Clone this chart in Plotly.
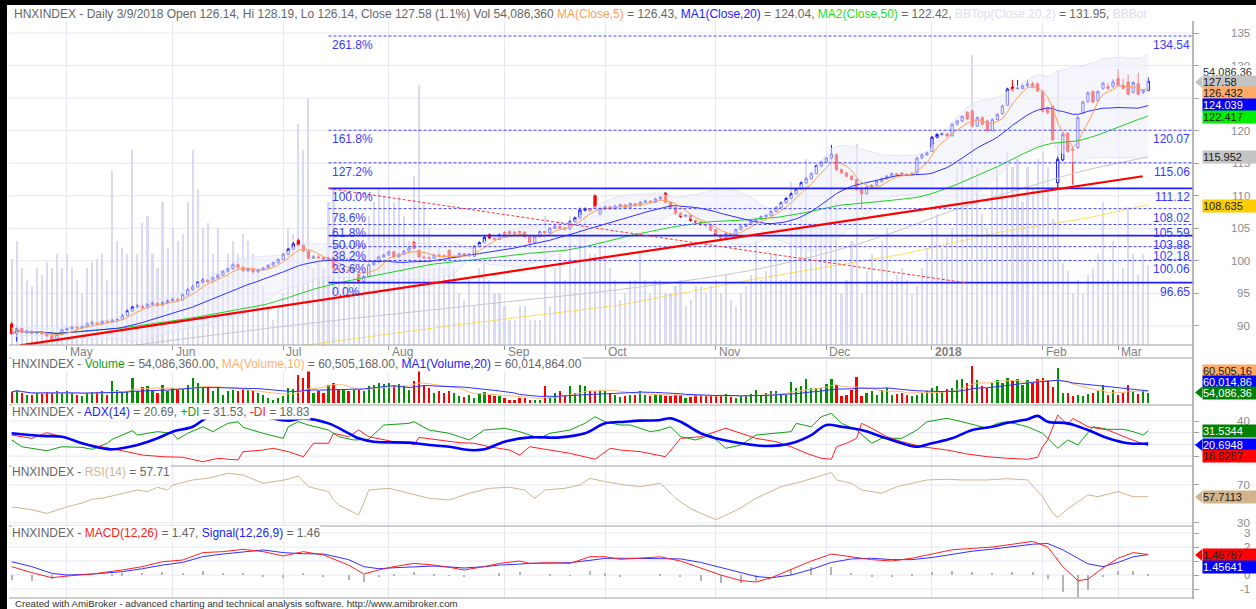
import plotly.graph_objects as go
import pandas as pd

W, H = 1256, 609
FONT = "Liberation Sans, Arial, sans-serif"

# ---------------------------------------------------------------- data
month_ticks = [11, 32, 54, 75, 98, 118, 140, 162, 183, 205, 220]
month_labels = ["May", "Jun", "Jul", "Aug", "Sep", "Oct", "Nov", "Dec", "2018", "Feb", "Mar"]

open_px = [
    90.3, 88.8, 89.6, 89.0, 89.2, 88.9, 89.0, 88.8, 88.5, 88.0, 88.7,
    89.4, 89.6, 89.8, 89.7, 89.9, 90.3, 90.5, 90.3, 90.7, 90.6, 90.9, 91.0, 91.6, 92.3, 92.9, 93.0, 92.8, 93.3, 93.5, 93.2, 93.6,
    93.9, 94.1, 94.0, 94.8, 95.6, 96.0, 96.7, 97.0, 96.8, 97.4, 97.8, 98.4, 98.8, 99.4, 99.0, 98.5, 98.7, 98.3, 98.6, 98.9, 99.3, 99.7,
    100.2, 101.0, 101.8, 103.1, 102.4, 101.5, 100.4, 100.6, 100.5, 100.2, 100.5, 98.8, 98.6, 98.6, 98.5, 97.9, 96.9, 97.6, 99.4, 99.8, 100.6,
    100.9, 101.4, 100.6, 101.0, 101.5, 102.8, 101.6, 100.6, 100.5, 100.4, 100.9, 100.8, 101.6, 100.5, 100.6, 101.1, 100.8, 100.7, 102.2, 102.8, 104.0, 103.5, 103.3,
    104.3, 104.5, 104.4, 104.5, 104.4, 103.7, 102.8, 103.7, 104.5, 104.3, 105.0, 105.3, 105.1, 104.9, 106.0, 106.6, 107.8, 108.0, 110.0, 107.2,
    108.0, 108.3, 108.0, 108.4, 108.6, 108.2, 108.8, 108.5, 109.0, 109.2, 109.0, 109.5, 110.4, 109.0, 108.2, 107.3, 106.8, 107.0, 106.2, 106.0, 105.6, 105.4,
    104.8, 104.0, 103.6, 104.2, 104.0, 104.8, 105.3, 105.6, 106.0, 106.4, 106.8, 107.0, 107.6, 108.2, 108.9, 109.6, 110.3, 111.0, 112.0, 112.6, 113.4, 114.6,
    115.2, 115.8, 116.3, 114.0, 113.5, 113.0, 112.5, 111.0, 110.3, 111.3, 111.6, 112.2, 112.6, 113.0, 113.4, 113.5, 113.3, 113.2, 113.5, 115.8, 116.3,
    116.8, 119.0, 119.4, 119.5, 119.2, 121.0, 121.5, 122.8, 123.0, 120.7, 122.0, 121.5, 120.0, 121.7, 122.6, 123.9, 126.7, 126.5, 126.5, 126.9, 127.2, 127.2,
    126.0, 123.5, 123.7, 112.0, 115.5, 119.6, 117.2, 117.4, 122.8, 124.5, 126.0, 124.6, 126.5, 126.8, 126.8,
    128.0, 127.0, 127.5, 125.9, 127.2, 125.9, 126.14,
]
high_px = [
    90.6, 89.8, 89.7, 89.4, 89.3, 89.2, 89.1, 88.9, 88.6, 88.9, 89.6,
    89.8, 90.0, 90.0, 90.1, 90.5, 90.7, 90.6, 90.9, 90.9, 91.1, 91.2, 91.8, 92.5, 93.1, 93.3, 93.2, 93.5, 93.8, 93.6, 93.8, 94.1,
    94.4, 94.3, 95.0, 95.8, 96.3, 96.9, 97.3, 97.2, 97.6, 98.0, 98.6, 99.0, 99.7, 99.6, 99.2, 98.9, 98.8, 98.8, 99.1, 99.5, 99.9, 100.4,
    101.2, 102.0, 102.9, 103.4, 102.6, 101.7, 100.9, 100.8, 100.6, 100.6, 100.7, 99.0, 98.9, 98.8, 98.9, 98.1, 97.8, 99.6, 100.0, 100.8, 101.1,
    101.6, 101.5, 101.2, 101.7, 102.2, 103.0, 101.8, 100.8, 100.7, 101.1, 101.1, 101.0, 101.8, 100.8, 101.3, 101.2, 101.2, 102.4, 103.0, 103.8, 104.2, 103.6, 104.2,
    104.5, 104.7, 104.6, 104.7, 104.5, 103.8, 103.9, 104.7, 104.6, 105.2, 105.5, 105.4, 105.2, 106.2, 106.8, 108.0, 108.2, 108.1, 110.2, 108.3,
    108.5, 108.4, 108.6, 108.8, 108.7, 109.0, 108.9, 109.2, 109.4, 109.3, 109.7, 110.0, 110.6, 109.1, 108.3, 107.5, 107.2, 107.1, 106.4, 106.1, 105.8, 105.5,
    104.9, 104.1, 104.4, 104.3, 105.0, 105.5, 105.8, 106.2, 106.6, 107.0, 107.2, 107.8, 108.4, 109.1, 109.8, 110.5, 111.2, 112.2, 112.8, 113.6, 114.8, 115.4,
    116.0, 117.8, 116.5, 114.2, 113.7, 113.2, 112.6, 111.3, 111.5, 111.8, 112.4, 112.8, 113.2, 113.6, 113.5, 113.7, 113.4, 113.6, 116.0, 116.5, 116.8,
    119.2, 119.6, 119.7, 119.7, 121.2, 121.7, 122.4, 123.0, 123.3, 122.2, 122.2, 121.7, 121.9, 122.7, 124.0, 126.6, 127.8, 127.8, 127.1, 127.8, 127.5, 127.4,
    126.2, 123.7, 123.9, 116.0, 119.8, 119.8, 117.5, 122.3, 124.6, 126.1, 126.2, 126.2, 127.5, 127.3, 127.9,
    129.4, 128.0, 128.6, 127.6, 128.9, 126.4, 128.19,
]
low_px = [
    88.6, 87.6, 88.9, 88.8, 88.7, 88.7, 88.6, 88.3, 87.8, 87.9, 88.6,
    89.2, 89.4, 89.5, 89.5, 89.8, 90.1, 90.1, 90.2, 90.4, 90.5, 90.7, 90.9, 91.5, 92.2, 92.7, 92.6, 92.7, 93.1, 93.0, 93.1, 93.4,
    93.7, 93.8, 93.9, 94.7, 95.4, 95.9, 96.5, 96.6, 96.7, 97.2, 97.7, 98.2, 98.7, 98.8, 98.3, 98.3, 98.1, 98.2, 98.5, 98.8, 99.2, 99.6,
    100.1, 100.9, 101.7, 102.2, 101.3, 100.2, 100.3, 100.3, 100.0, 100.1, 98.6, 98.4, 98.4, 98.3, 98.4, 96.7, 96.6, 97.5, 99.3, 99.7, 100.5,
    100.8, 100.4, 100.5, 100.9, 101.4, 101.8, 100.5, 100.3, 100.3, 100.3, 100.6, 100.5, 100.4, 100.4, 100.5, 100.7, 100.6, 100.6, 102.1, 102.7, 103.3, 103.1, 103.2,
    103.5, 104.0, 104.0, 104.1, 103.5, 102.6, 102.7, 103.6, 104.1, 104.2, 104.9, 104.8, 104.7, 104.8, 105.9, 106.5, 107.6, 107.5, 108.0, 107.0,
    107.8, 107.8, 107.9, 108.2, 108.0, 108.1, 108.3, 108.4, 108.9, 108.8, 108.9, 109.4, 108.9, 108.0, 107.1, 106.6, 106.7, 106.0, 105.8, 105.4, 105.2, 104.6,
    103.8, 103.3, 103.5, 103.8, 103.9, 104.7, 105.2, 105.5, 105.9, 106.3, 106.6, 106.9, 107.5, 108.1, 108.8, 109.5, 110.2, 110.9, 111.8, 112.5, 113.3, 114.4,
    115.0, 115.6, 113.8, 113.3, 112.8, 112.3, 110.8, 108.0, 110.2, 111.1, 111.5, 112.0, 112.5, 112.9, 113.0, 113.1, 113.0, 113.0, 113.4, 115.6, 116.1,
    116.7, 118.8, 119.2, 119.0, 119.1, 120.8, 121.3, 121.6, 120.5, 120.6, 120.8, 119.8, 119.9, 121.6, 122.5, 123.8, 126.0, 126.3, 126.3, 126.7, 126.6, 125.9,
    122.8, 122.5, 118.4, 111.1, 115.3, 116.6, 111.7, 117.2, 122.6, 124.3, 124.2, 124.4, 126.3, 126.3, 126.6,
    126.8, 126.3, 125.4, 125.7, 125.4, 125.6, 126.14,
]
close_px = [
    88.8, 89.6, 89.0, 89.2, 88.9, 89.0, 88.8, 88.5, 88.0, 88.7, 89.4,
    89.6, 89.8, 89.7, 89.9, 90.3, 90.5, 90.3, 90.7, 90.6, 90.9, 91.0, 91.6, 92.3, 92.9, 93.0, 92.8, 93.3, 93.5, 93.2, 93.6, 93.9,
    94.1, 94.0, 94.8, 95.6, 96.0, 96.7, 97.0, 96.8, 97.4, 97.8, 98.4, 98.8, 99.4, 99.0, 98.5, 98.7, 98.3, 98.6, 98.9, 99.3, 99.7, 100.2,
    101.0, 101.8, 102.6, 102.4, 101.5, 100.4, 100.6, 100.5, 100.2, 100.4, 98.8, 98.6, 98.6, 98.5, 98.7, 96.9, 97.6, 99.4, 99.8, 100.6, 100.9,
    101.4, 100.6, 101.0, 101.5, 102.0, 101.9, 100.6, 100.5, 100.4, 100.9, 100.8, 100.7, 100.5, 100.6, 101.1, 100.8, 101.0, 102.2, 102.8, 103.6, 103.5, 103.3, 104.0,
    103.7, 104.2, 104.1, 104.3, 103.7, 102.8, 103.7, 104.5, 104.3, 105.0, 105.3, 105.0, 104.9, 106.0, 106.6, 107.8, 108.0, 107.7, 108.2, 108.0,
    108.3, 108.0, 108.4, 108.6, 108.2, 108.8, 108.5, 109.0, 109.2, 109.0, 109.5, 109.8, 109.0, 108.2, 107.3, 106.8, 107.0, 106.2, 106.0, 105.6, 105.4, 104.8,
    104.0, 103.6, 104.2, 104.0, 104.8, 105.3, 105.6, 106.0, 106.4, 106.8, 107.0, 107.6, 108.2, 108.9, 109.6, 110.3, 111.0, 112.0, 112.6, 113.4, 114.6, 115.2,
    115.8, 116.4, 114.0, 113.5, 113.0, 112.5, 111.0, 110.3, 111.3, 111.6, 112.2, 112.6, 113.0, 113.4, 113.2, 113.3, 113.2, 113.4, 115.8, 116.3, 116.6,
    119.0, 119.4, 119.5, 119.2, 121.0, 121.5, 122.2, 121.8, 120.7, 122.0, 121.0, 120.0, 121.7, 122.5, 123.8, 126.4, 126.2, 126.5, 126.9, 127.2, 126.8, 126.1,
    123.0, 122.8, 118.6, 115.6, 119.4, 116.8, 117.0, 122.0, 124.4, 125.8, 124.4, 126.0, 127.3, 126.5, 127.5,
    127.0, 126.5, 125.6, 127.4, 125.6, 126.2, 127.58,
]
volume_m = [
    58, 70, 52, 44, 40, 52, 47, 56, 52, 61, 52,
    61, 52, 44, 35, 52, 56, 58, 61, 44, 117, 70, 65, 61, 131, 61, 82, 87, 61, 52, 96, 65,
    79, 70, 75, 96, 131, 105, 79, 82, 61, 79, 44, 61, 70, 61, 75, 70, 61, 52, 40, 26, 17, 26,
    35, 79, 75, 149, 131, 166, 52, 61, 52, 96, 105, 70, 70, 61, 70, 70, 61, 87, 96, 105, 100,
    105, 96, 100, 87, 70, 114, 175, 96, 79, 52, 65, 52, 61, 52, 35, 30, 44, 26, 52, 58, 44, 35, 35,
    26, 17, 17, 26, 26, 17, 17, 17, 87, 26, 52, 61, 44, 87, 52, 93, 87, 61, 61, 70,
    61, 52, 44, 30, 35, 44, 44, 61, 44, 35, 44, 44, 35, 35, 40, 44, 26, 30, 40, 40, 35, 40,
    44, 35, 47, 30, 26, 35, 40, 47, 70, 44, 50, 61, 61, 44, 44, 110, 79, 90, 125, 79, 79, 79,
    100, 125, 96, 35, 44, 70, 135, 35, 50, 61, 44, 70, 79, 44, 47, 52, 44, 35, 40, 52, 65,
    79, 88, 65, 72, 79, 120, 125, 105, 195, 120, 88, 79, 105, 120, 105, 130, 120, 125, 96, 120, 105, 125,
    130, 120, 85, 185, 55, 50, 35, 44, 35, 47, 52, 61, 96, 44, 70,
    44, 52, 93, 61, 47, 61, 54.08636,
]

# long moving averages
grey_bars = [20, 57, 90, 125, 150, 170, 190, 207, 214, 226]
grey_vals = [86.6, 90.2, 93.0, 96.0, 99.0, 103.0, 108.5, 112.5, 114.0, 115.952]
yellow_bars = [56, 90, 121, 147, 177, 197, 214, 226]
yellow_vals = [86.8, 90.3, 93.2, 97.1, 101.0, 104.5, 106.6, 108.635]

# fibonacci study and trend lines
fib_pcts = ["261.8%", "161.8%", "127.2%", "100.0%", "78.6%", "61.8%", "50.0%", "38.2%", "23.6%", "0.0%"]
fib_levels = [134.54, 120.07, 115.06, 111.12, 108.02, 105.59, 103.88, 102.18, 100.06, 96.65]
fib_solid = [False, False, False, True, False, False, True, False, False, True]
fib_start_bar = 63
fib_end_bar = 234.9
fib_diag_bars = [63, 189.5]
fib_diag_prices = [111.12, 96.65]
trend_bars = [1.66, 224.9]
trend_prices = [87.0, 113.0]

# ADX(14)
adx_bars = [0, 6, 10, 14, 18, 20, 25, 29, 32, 36, 39, 41, 45, 50, 55, 58, 63, 67, 69, 72, 79, 83, 87, 91, 94, 98, 103, 109, 114, 118,
            122, 125, 129, 131, 133, 137, 140, 145, 150, 155, 159, 162, 165, 169, 173, 177, 180, 183, 187, 191, 195, 198, 202, 204, 206, 210, 214, 218, 222, 226]
adx_vals = [29.5, 27.2, 26.6, 21.0, 16.7, 15.8, 19.5, 25.2, 30.9, 35.1, 43.2, 43.7, 46.0, 43.7, 40.3, 42.3, 38.0, 29.5, 25.2, 22.3,
            21.5, 19.5, 18.0, 15.2, 15.8, 22.3, 26.0, 26.0, 29.5, 38.0, 39.4, 40.3, 40.9, 42.3, 39.4, 29.5, 25.2, 21.0, 18.6, 21.0,
            28.0, 36.6, 35.1, 32.3, 26.6, 21.0, 18.0, 21.0, 25.2, 32.3, 35.1, 38.5, 41.5, 44.4, 39.4, 38.0, 32.3, 25.2, 21.0, 20.69]
pdi_bars = [0, 2, 7, 10, 14, 16, 19, 20, 24, 25, 27, 29, 32, 33, 35, 38, 40, 43, 45, 46, 50, 54, 55, 57, 59, 63, 65, 68, 71, 74,
            79, 80, 83, 87, 91, 94, 98, 101, 105, 107, 111, 114, 116, 118, 121, 123, 127, 129, 131, 133, 136, 139, 142, 145, 148, 152,
            155, 156, 159, 161, 163, 165, 168, 171, 173, 177, 180, 182, 186, 189, 192, 194, 196, 198, 202, 205, 208, 210, 212, 215,
            218, 221, 223, 225, 226]
pdi_vals = [23.8, 18.0, 14.6, 18.0, 17.5, 15.8, 21.0, 24.4, 31.7, 28.0, 29.5, 30.9, 29.5, 24.4, 29.5, 35.1, 30.9, 38.0, 39.4, 34.6,
            29.5, 25.2, 35.1, 39.4, 36.6, 32.3, 26.6, 23.8, 24.4, 36.6, 38.0, 39.4, 32.3, 29.5, 23.8, 32.3, 33.8, 30.9, 25.2, 29.5,
            32.3, 38.0, 43.7, 39.4, 36.6, 36.6, 30.9, 32.3, 35.1, 26.6, 23.8, 28.0, 16.7, 19.5, 28.0, 29.5, 30.9, 38.0, 35.1, 43.7,
            46.6, 38.0, 32.3, 21.0, 25.2, 25.2, 32.3, 39.4, 42.3, 39.4, 35.7, 33.8, 38.0, 39.4, 35.1, 29.5, 16.7, 23.8, 19.5, 35.1,
            32.9, 32.9, 30.9, 28.0, 31.53]
mdi_bars = [0, 4, 7, 10, 14, 18, 22, 26, 30, 34, 38, 41, 45, 46, 50, 52, 55, 58, 60, 63, 64, 67, 69, 71, 74, 76, 79, 80, 81, 85,
            89, 92, 95, 99, 101, 103, 107, 111, 116, 119, 121, 125, 130, 133, 137, 139, 142, 145, 148, 152, 155, 158, 161, 163, 164,
            166, 168, 169, 171, 174, 177, 181, 186, 190, 194, 198, 202, 204, 205, 206, 208, 210, 211, 214, 218, 222, 226]
mdi_vals = [28.0, 25.2, 30.0, 26.6, 21.0, 18.0, 14.6, 10.9, 9.5, 9.0, 5.2, 8.1, 6.7, 13.8, 15.2, 16.7, 13.8, 9.5, 21.0, 21.0,
            29.5, 26.6, 32.3, 26.6, 24.4, 22.3, 21.5, 19.5, 26.0, 23.8, 21.5, 21.0, 18.0, 15.2, 10.9, 18.0, 15.2, 12.4, 7.3, 16.7,
            15.2, 13.8, 9.5, 25.2, 26.6, 29.5, 33.8, 29.5, 25.2, 22.3, 18.0, 12.4, 8.1, 7.3, 18.0, 21.0, 25.2, 38.0, 33.8, 26.6,
            22.3, 18.0, 15.2, 11.8, 9.5, 8.1, 7.3, 9.0, 18.0, 23.8, 45.1, 36.6, 42.3, 35.1, 32.3, 25.2, 18.83]

# RSI(14)
rsi_bars = [0, 4, 7, 11, 14, 16, 18, 21, 25, 27, 29, 31, 32, 36, 39, 43, 46, 50, 55, 57, 59, 63, 64, 65, 69, 70, 71, 75, 79, 83,
            87, 91, 95, 99, 102, 104, 106, 110, 113, 115, 118, 122, 125, 129, 132, 135, 138, 140, 142, 145, 148, 153, 157, 163, 164,
            167, 169, 173, 176, 182, 186, 189, 194, 198, 202, 205, 207, 208, 210, 214, 216, 220, 223, 226]
rsi_vals = [47, 44, 40, 47, 51, 55, 56, 59.5, 64.7, 63, 67.6, 64.7, 70, 75.3, 77, 82.3, 80.5, 71.8, 76, 79.5,
            68.2, 63, 54.2, 49, 38.4, 50.7, 64.7, 66.5, 61.3, 56, 54.2, 61.3, 66.5, 67.6, 64.7, 56, 64.7, 66.5, 70, 77,
            73.5, 70, 68.2, 71.8, 56, 45, 38, 33.5, 38, 46, 56, 68.2, 73.5, 83, 75.3, 71.8, 64.7, 61.3, 68.2, 75.3,
            76, 75.3, 75.3, 76.6, 75.3, 57.7, 40, 36, 45, 59.5, 57.7, 63, 57.7, 57.71]

# MACD(12,26) / Signal(9)
macd_bars = [0, 4, 8, 11, 16, 20, 22, 26, 30, 34, 38, 42, 46, 50, 54, 58, 62, 67, 70, 73, 76, 80, 84, 87, 90, 94, 97, 101, 103, 107,
             111, 115, 118, 121, 125, 129, 133, 137, 141, 145, 148, 151, 155, 159, 163, 167, 171, 175, 179, 183, 187, 191, 195, 199,
             203, 206, 209, 212, 214, 217, 220, 223, 226]
macd_vals = [0.6, 0.17, -0.19, -0.07, 0.07, 0.24, 0.36, 0.6, 0.95, 1.07, 1.6, 1.67, 1.83, 1.67, 1.36, 1.67, 1.43, 0.71, 0.07, 0.36,
             0.6, 0.83, 0.71, 0.55, 0.36, 0.6, 0.83, 1.0, 0.83, 0.88, 0.83, 1.31, 1.31, 1.12, 1.19, 1.3, 1.0, 0.5, 0.0, -0.4,
             -0.5, -0.2, 0.4, 1.0, 1.5, 1.3, 1.1, 1.0, 1.2, 1.5, 1.8, 1.9, 2.0, 2.2, 2.4, 2.0, 0.6, -0.4, -0.3, 0.5,
             1.2, 1.6, 1.47]
signal_vals = [0.95, 0.6, 0.12, 0.0, 0.07, 0.2, 0.24, 0.45, 0.71, 0.9, 1.31, 1.5, 1.65, 1.79, 1.6, 1.52, 1.5, 1.1, 0.6, 0.45,
               0.52, 0.6, 0.64, 0.58, 0.5, 0.6, 0.71, 0.78, 0.83, 0.85, 0.88, 1.05, 1.19, 1.2, 1.19, 1.2, 1.15, 0.9, 0.55, 0.2,
               -0.1, -0.2, 0.0, 0.4, 0.9, 1.15, 1.2, 1.1, 1.1, 1.25, 1.5, 1.7, 1.85, 2.0, 2.2, 2.25, 1.8, 1.2, 0.8, 0.6,
               0.9, 1.3, 1.46]

# last values printed by the chart
last_ma5, last_ma20, last_ma50, last_bbtop = 126.43, 124.04, 122.42, 131.95
last_vma10, last_vma20 = 60505168.00, 60014864.00
lbl_ma5, lbl_ma20, lbl_ma50, lbl_grey, lbl_yellow = "126.432", "124.039", "122.417", "115.952", "108.635"
lbl_adx, lbl_pdi, lbl_mdi, lbl_rsi = "20.6948", "31.5344", "18.8287", "57.7113"
lbl_macd, lbl_sig = "1.46787", "1.45641"

price_ticks = [90, 95, 100, 105, 110, 115, 120, 125, 130, 135]
price_tick_labels = [90, 95, 100, 105, 110, 115, 120, 130, 135]
adx_ticks, adx_tick_labels = [10, 20, 30, 40], [40]
rsi_ticks = [30, 70]
macd_ticks, macd_tick_labels = [-1, 0, 1, 2, 3], [-1, 0, 2, 3]

# ---------------------------------------------------------------- derived
n = len(close_px)
bars = list(range(n))
cs = pd.Series(close_px)
ma5 = cs.rolling(5, min_periods=1).mean()
ma20 = cs.rolling(20, min_periods=1).mean()
ma50 = cs.rolling(50, min_periods=1).mean()
sd20 = cs.rolling(20, min_periods=2).std(ddof=0).bfill()
bb_top = ma20 + 2 * sd20
bb_bot = ma20 - 2 * sd20
vs = pd.Series(volume_m)
vma10 = vs.rolling(10, min_periods=1).mean()
vma20 = vs.rolling(20, min_periods=1).mean()
up = [c >= o for o, c in zip(open_px, close_px)]
macd_hist = [m - s for m, s in zip(macd_vals, signal_vals)]


def px_x(p):
    return p / W


def px_y(p):
    return 1 - p / H


X0, X1 = 9, 1193
XR = [-0.53, 234.9]
P_TOP, P_BOT = 21, 345
V_TOP, V_BOT = 358, 403
A_TOP, A_BOT = 405, 466
R_TOP, R_BOT = 466, 526
M_TOP, M_BOT = 526, 598
GRID = "#e6e6f5"
AXC = "#a0a0a0"

fig = go.Figure()

# ----- price pane
fig.add_trace(go.Bar(x=bars, y=volume_m, xaxis="x", yaxis="y", width=0.42,
                     marker=dict(color="#dadaf2", line=dict(width=0)), hoverinfo="skip"))
fig.add_trace(go.Scatter(x=bars, y=bb_bot, xaxis="x", yaxis="y2", mode="lines",
                         line=dict(color="rgba(222,222,245,0.9)", width=0.8), hoverinfo="skip"))
fig.add_trace(go.Scatter(x=bars, y=bb_top, xaxis="x", yaxis="y2", mode="lines", fill="tonexty",
                         fillcolor="rgba(236,236,250,0.55)",
                         line=dict(color="rgba(222,222,245,0.9)", width=0.8), hoverinfo="skip"))
fig.add_trace(go.Scatter(x=yellow_bars, y=yellow_vals, xaxis="x", yaxis="y2", mode="lines",
                         line=dict(color="#ffd21a", width=1, dash="2px,1px"), hoverinfo="skip"))
fig.add_trace(go.Scatter(x=grey_bars, y=grey_vals, xaxis="x", yaxis="y2", mode="lines",
                         line=dict(color="#c8c8c8", width=1, shape="spline"), hoverinfo="skip"))
fig.add_trace(go.Scatter(x=bars, y=ma50, xaxis="x", yaxis="y2", mode="lines",
                         line=dict(color="#20d020", width=1), hoverinfo="skip"))
fig.add_trace(go.Scatter(x=bars, y=ma20, xaxis="x", yaxis="y2", mode="lines",
                         line=dict(color="#3030ff", width=1), hoverinfo="skip"))
fig.add_trace(go.Scatter(x=bars, y=ma5, xaxis="x", yaxis="y2", mode="lines",
                         line=dict(color="#ffa050", width=1), hoverinfo="skip"))

for lvl, solid in zip(fib_levels, fib_solid):
    fig.add_trace(go.Scatter(x=[fib_start_bar, fib_end_bar], y=[lvl, lvl], xaxis="x", yaxis="y2", mode="lines",
                             line=dict(color="#2020ff" if solid else "#4040ff", width=1.7 if solid else 1,
                                       dash="solid" if solid else "3px,2px"), hoverinfo="skip"))
fig.add_trace(go.Scatter(x=fib_diag_bars, y=fib_diag_prices, xaxis="x", yaxis="y2", mode="lines",
                         line=dict(color="#ff3030", width=1, dash="3px,2px"), hoverinfo="skip"))
fig.add_trace(go.Scatter(x=trend_bars, y=trend_prices, xaxis="x", yaxis="y2", mode="lines",
                         line=dict(color="#ff0000", width=2.2), hoverinfo="skip"))

fig.add_trace(go.Candlestick(x=bars, open=open_px, high=high_px, low=low_px, close=close_px,
                             xaxis="x", yaxis="y2", whiskerwidth=0,
                             increasing=dict(line=dict(color="#1010ff", width=1), fillcolor="white"),
                             decreasing=dict(line=dict(color="#ff0000", width=1), fillcolor="#ff0000"),
                             hoverinfo="skip"))

# ----- volume pane
fig.add_trace(go.Bar(x=bars, y=volume_m, xaxis="x2", yaxis="y3", width=0.45,
                     marker=dict(color=["#009000" if u else "#ff0000" for u in up], line=dict(width=0)),
                     hoverinfo="skip"))
fig.add_trace(go.Scatter(x=bars, y=vma10, xaxis="x2", yaxis="y3", mode="lines",
                         line=dict(color="#ffb878", width=1), hoverinfo="skip"))
fig.add_trace(go.Scatter(x=bars, y=vma20, xaxis="x2", yaxis="y3", mode="lines",
                         line=dict(color="#3030ff", width=1), hoverinfo="skip"))

# ----- ADX pane
fig.add_trace(go.Scatter(x=pdi_bars, y=pdi_vals, xaxis="x3", yaxis="y4", mode="lines",
                         line=dict(color="#10a010", width=1), hoverinfo="skip"))
fig.add_trace(go.Scatter(x=mdi_bars, y=mdi_vals, xaxis="x3", yaxis="y4", mode="lines",
                         line=dict(color="#ff2020", width=1), hoverinfo="skip"))
fig.add_trace(go.Scatter(x=adx_bars, y=adx_vals, xaxis="x3", yaxis="y4", mode="lines",
                         line=dict(color="#0000ff", width=2.6, shape="spline"), hoverinfo="skip"))

# ----- RSI pane
fig.add_trace(go.Scatter(x=rsi_bars, y=rsi_vals, xaxis="x4", yaxis="y5", mode="lines",
                         line=dict(color="#d2b48c", width=1), hoverinfo="skip"))

# ----- MACD pane
fig.add_trace(go.Bar(x=macd_bars, y=macd_hist, xaxis="x5", yaxis="y6", width=0.22,
                     marker=dict(color="#b4b4b4", line=dict(width=0)), hoverinfo="skip"))
fig.add_trace(go.Scatter(x=macd_bars, y=signal_vals, xaxis="x5", yaxis="y6", mode="lines",
                         line=dict(color="#3030ff", width=1), hoverinfo="skip"))
fig.add_trace(go.Scatter(x=macd_bars, y=macd_vals, xaxis="x5", yaxis="y6", mode="lines",
                         line=dict(color="#ff2020", width=1), hoverinfo="skip"))

# ---------------------------------------------------------------- layout
xdom = [px_x(X0), px_x(X1)]


def xax(anchor, ticks=False):
    d = dict(domain=xdom, range=XR, anchor=anchor, tickvals=month_ticks, showgrid=True, gridcolor=GRID,
             gridwidth=1, showticklabels=False, zeroline=False, showline=False, fixedrange=True,
             ticks="outside" if ticks else "", ticklen=4, tickcolor="#909090")
    return d


def yax(top, bot, rng, tickvals=None, **kw):
    d = dict(domain=[px_y(bot), px_y(top)], range=rng, side="right", showgrid=False, zeroline=False,
             showticklabels=False, fixedrange=True, ticks="outside" if tickvals else "", ticklen=5,
             tickcolor=AXC, tickvals=tickvals or [])
    d.update(kw)
    return d


layout = dict(
    width=W, height=H, margin=dict(l=0, r=0, t=0, b=0),
    paper_bgcolor="white", plot_bgcolor="white", showlegend=False, bargap=0, boxgap=0.35,
    font=dict(family=FONT, size=12, color="#808080"),
    xaxis=dict(xax("y", ticks=True), rangeslider=dict(visible=False)),
    xaxis2=xax("y3"), xaxis3=xax("y4"), xaxis4=xax("y5"), xaxis5=xax("y6"),
    yaxis=dict(domain=[px_y(P_BOT), px_y(P_TOP)], range=[0, 218], visible=False, fixedrange=True, anchor="x"),
    yaxis2=yax(P_TOP, P_BOT, [87.07, 136.85], price_ticks, overlaying="y", anchor="x"),
    yaxis3=yax(V_TOP, V_BOT, [0, 236], None, anchor="x2"),
    yaxis4=yax(A_TOP, A_BOT, [1.54, 53.7], adx_ticks, anchor="x3"),
    yaxis5=yax(R_TOP, R_BOT, [26.8, 90], rsi_ticks, anchor="x4"),
    yaxis6=yax(M_TOP, M_BOT, [-1.64, 3.5], macd_ticks, anchor="x5"),
)
fig.update_layout(**layout)

shapes = []
for v in price_ticks:
    shapes.append(dict(type="line", xref="x domain", yref="y2", x0=0, x1=1, y0=v, y1=v,
                       line=dict(color=GRID, width=1), layer="below"))
for v in adx_ticks:
    shapes.append(dict(type="line", xref="x3 domain", yref="y4", x0=0, x1=1, y0=v, y1=v,
                       line=dict(color=GRID, width=1), layer="below"))
for v in rsi_ticks:
    shapes.append(dict(type="line", xref="x4 domain", yref="y5", x0=0, x1=1, y0=v, y1=v,
                       line=dict(color=GRID, width=1), layer="below"))
for v in macd_ticks:
    shapes.append(dict(type="line", xref="x5 domain", yref="y6", x0=0, x1=1, y0=v, y1=v,
                       line=dict(color=GRID, width=1), layer="below"))
for yp in [P_BOT, V_TOP, A_TOP, R_TOP, M_TOP, M_BOT]:
    shapes.append(dict(type="line", xref="paper", yref="paper", x0=px_x(X0), x1=px_x(X1),
                       y0=px_y(yp), y1=px_y(yp), line=dict(color=AXC, width=1.2)))
shapes.append(dict(type="line", xref="paper", yref="paper", x0=px_x(X1), x1=px_x(X1),
                   y0=px_y(P_TOP), y1=px_y(M_BOT + 1), line=dict(color=AXC, width=1.5)))
shapes.append(dict(type="rect", xref="paper", yref="paper", x0=0, x1=1, y0=px_y(5), y1=1,
                   fillcolor="black", line=dict(width=0)))
shapes.append(dict(type="rect", xref="paper", yref="paper", x0=0, x1=px_x(7), y0=0, y1=1,
                   fillcolor="black", line=dict(width=0)))

ann = []


def span(t, c):
    return f'<span style="color:{c}">{t}</span>'


TITLE_C = "#666666"
hdr = (f"HNXINDEX - Daily 3/9/2018 Open {open_px[-1]:.2f}, Hi {high_px[-1]:.2f}, Lo {low_px[-1]:.2f}, "
       f"Close {close_px[-1]:.2f} ({(close_px[-1] / close_px[-2] - 1) * 100:.1f}%) Vol {volume_m[-1] * 1e6:,.0f} "
       + span("MA(Close,5)", "#ffa050") + f" = {last_ma5:.2f}, "
       + span("MA1(Close,20)", "#2020ff") + f" = {last_ma20:.2f}, "
       + span("MA2(Close,50)", "#20e020") + f" = {last_ma50:.2f}, "
       + span("BBTop(Close,20,2)", "#dcdcf4") + f" = {last_bbtop:.2f}, "
       + span("BBBot", "#dcdcf4"))
ann.append(dict(xref="paper", yref="paper", x=px_x(12), y=px_y(13.5), xanchor="left", yanchor="middle",
                text=hdr, showarrow=False, font=dict(family=FONT, size=12, color=TITLE_C)))

vol_title = ("HNXINDEX - " + span("Volume", "#10a010") + f" = {volume_m[-1] * 1e6:,.2f}, "
             + span("MA(Volume,10)", "#ffb070") + f" = {last_vma10:,.2f}, "
             + span("MA1(Volume,20)", "#2020ff") + f" = {last_vma20:,.2f}")
adx_title = ("HNXINDEX - " + span("ADX(14)", "#2020ff") + f" = {adx_vals[-1]:.2f}, "
             + span("+DI", "#10a010") + f" = {pdi_vals[-1]:.2f}, " + span("-DI", "#ff2020") + f" = {mdi_vals[-1]:.2f}")
rsi_title = "HNXINDEX - " + span("RSI(14)", "#d2b48c") + f" = {rsi_vals[-1]:.2f}"
macd_title = ("HNXINDEX - " + span("MACD(12,26)", "#ff2020") + f" = {macd_vals[-1]:.2f}, "
              + span("Signal(12,26,9)", "#2020ff") + f" = {signal_vals[-1]:.2f}")
for t, yp in [(vol_title, 364), (adx_title, 412), (rsi_title, 472), (macd_title, 533)]:
    ann.append(dict(xref="paper", yref="paper", x=px_x(11), y=px_y(yp), xanchor="left", yanchor="middle",
                    text=t, showarrow=False, bgcolor="white", borderpad=0,
                    font=dict(family=FONT, size=12, color=TITLE_C)))

ann.append(dict(xref="paper", yref="paper", x=px_x(13), y=px_y(603.5), xanchor="left", yanchor="middle",
                text="Created with AmiBroker - advanced charting and technical analysis software. http://www.amibroker.com",
                showarrow=False, font=dict(family=FONT, size=9.7, color="#303030")))

for b, lab in zip(month_ticks, month_labels):
    ann.append(dict(xref="x", yref="paper", x=b, y=px_y(352), xanchor="left", yanchor="middle", xshift=1,
                    text=f"<b>{lab}</b>" if lab == "2018" else lab, showarrow=False,
                    font=dict(family=FONT, size=12, color="#808080")))

TICK_C = "#8a8a8a"
for axref, vals in [("y2", price_tick_labels), ("y4", adx_tick_labels), ("y5", rsi_ticks), ("y6", macd_tick_labels)]:
    for v in vals:
        ann.append(dict(xref="paper", yref=axref, x=px_x(1252), y=v, xanchor="right", yanchor="middle",
                        text=str(v), showarrow=False, font=dict(family=FONT, size=11.5, color=TICK_C)))

for pct, lvl in zip(fib_pcts, fib_levels):
    ann.append(dict(xref="x", yref="y2", x=fib_start_bar, y=lvl, xanchor="left", yanchor="top", xshift=1,
                    text=pct, showarrow=False, font=dict(family=FONT, size=12, color="#3a3aff")))
    ann.append(dict(xref="paper", yref="y2", x=px_x(1192), y=lvl, xanchor="right", yanchor="top",
                    text=f"{lvl:.2f}", showarrow=False, font=dict(family=FONT, size=12, color="#3a3aff")))

# value boxes on the right edge (the picture crops the long ones)
vol_txt = f"{volume_m[-1] * 1e6:,.0f}"[:9]
boxes = [
    (vol_txt, 72, "white", "#303030", False),
    (f"{close_px[-1]:.2f}", 82, "#c4c4c4", "#202020", True),
    (lbl_ma5, 93, "#ffaa66", "#202020", False),
    (lbl_ma20, 105, "#0000ff", "white", False),
    (lbl_ma50, 117, "#00ee00", "#202020", False),
    (lbl_grey, 157, "#c4c4c4", "#202020", False),
    (lbl_yellow, 206, "#ffcc00", "#202020", False),
    (f"{last_vma10:,.0f}"[:9], 371, "#ffaa66", "#202020", False),
    (f"{last_vma20:,.0f}"[:9], 382, "#0000ff", "white", False),
    (vol_txt, 392.5, "#008000", "white", True),
    (lbl_pdi, 431, "#008000", "white", False),
    (lbl_adx, 445, "#0000ff", "white", True),
    (lbl_mdi, 456, "#ff0000", "#202020", False),
    (lbl_rsi, 497, "#d2b48c", "#202020", True),
    (lbl_macd, 555, "#ff0000", "#202020", True),
    (lbl_sig, 567, "#0000ff", "white", False),
]
for txt, yp, bg, fg, arrow in boxes:
    ann.append(dict(xref="paper", yref="paper", x=px_x(1202), y=px_y(yp), xanchor="left", yanchor="middle",
                    text=txt, showarrow=False, bgcolor=bg, borderpad=0, height=11.5, width=53, align="left",
                    font=dict(family=FONT, size=11, color=fg)))
    if arrow:
        shapes.append(dict(type="path", xref="paper", yref="paper",
                           path=f"M {px_x(1195)},{px_y(yp)} L {px_x(1202)},{px_y(yp - 5.8)} "
                                f"L {px_x(1202)},{px_y(yp + 5.8)} Z",
                           fillcolor=bg, line=dict(width=0)))

fig.update_layout(shapes=shapes, annotations=ann)
fig.write_html("out.html", config={"displayModeBar": False},
               post_script="document.body.style.margin='0';document.body.style.overflow='hidden';")
